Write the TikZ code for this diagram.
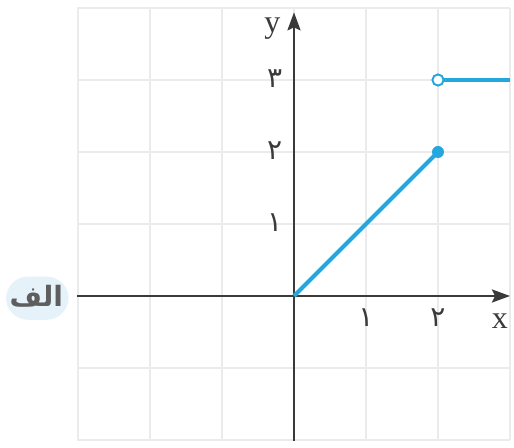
\documentclass[tikz,border=0pt]{standalone}
\usepackage{fontspec}
\setmainfont{Liberation Serif}
\newfontfamily\arabicfont[Script=Arabic]{DejaVu Sans}
\TeXXeTstate=1
\usetikzlibrary{arrows.meta}
\definecolor{gridc}{HTML}{EBEBEB}
\definecolor{axisc}{HTML}{3A3A3A}
\definecolor{fblue}{HTML}{22A8DF}
\definecolor{lblbg}{HTML}{E6F2FA}
\definecolor{lbltext}{HTML}{5E5E5E}
\tikzset{
  gridline/.style={draw=gridc, line width=0.7pt},
  axisline/.style={draw=axisc, line width=1.3pt, -{Stealth[length=9pt,width=6.5pt,inset=1.5pt]}},
  graphline/.style={draw=fblue, line width=2pt},
  ticklbl/.style={font=\arabicfont\fontsize{14}{14}\selectfont, text=axisc, inner sep=0pt},
  axislbl/.style={font=\fontsize{16}{16}\selectfont, text=axisc, inner sep=0pt},
  filleddot/.style={circle, fill=fblue, inner sep=0pt, minimum size=6pt},
  opendot/.style={circle, draw=fblue, fill=white, line width=0.9pt, inner sep=0pt, minimum size=5.5pt},
  lblback/.style={fill=lblbg, rounded corners=11pt},
  partlbl/.style={font=\arabicfont\bfseries\fontsize{14}{14}\selectfont, text=lbltext, inner sep=0pt}
}
\begin{document}
\begin{tikzpicture}[x=36pt,y=36pt]
\useasboundingbox (-4.0833,-2.1111) rectangle (3.0556,4.1111);
% grid
\foreach \i in {-3,...,3} \draw[gridline] (\i,-2) -- (\i,4);
\foreach \j in {-2,...,4} \draw[gridline] (-3.01,\j) -- (3,\j);
% axes
\coordinate (xl) at (-3.01,0);
\coordinate (xr) at (3.0,0);
\coordinate (yb) at (0,-2.01);
\coordinate (yt) at (0,3.94);
\draw[axisline] (xl) -- (xr);
\draw[axisline] (yb) -- (yt);
% graph
\coordinate (O) at (0,0);
\node[filleddot] (P) at (2,2) {};
\coordinate (R) at (3,3);
\draw[graphline] (O) -- (P.center);
\node[opendot] (Q) at (2,3) {};
\draw[graphline] (Q.east) -- (R);
\node[opendot] at (2,3) {};
% labels
\node[axislbl] (ylab) at (-0.3,3.72) {y};
\node[axislbl] (xlab) at (2.86,-0.35) {x};
\node[ticklbl] (y1) at (-0.27,1.02) {۱};
\node[ticklbl] (y2) at (-0.27,2.02) {۲};
\node[ticklbl] (y3) at (-0.27,3.02) {۳};
\node[ticklbl] (x1) at (1,-0.3) {۱};
\node[ticklbl] (x2) at (2,-0.3) {۲};
\fill[lblback] (-4.0,0.27) rectangle (-3.13,-0.33);
\node[partlbl] (lbl) at (-3.58,-0.01) {\beginR الف\endR};
\end{tikzpicture}
\end{document}
